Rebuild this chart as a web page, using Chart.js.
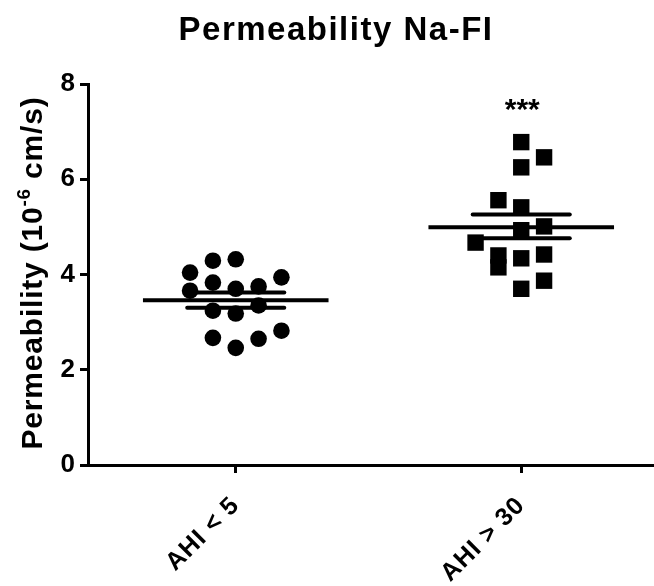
<!DOCTYPE html>
<html>
<head>
<meta charset="utf-8">
<script src="https://cdn.jsdelivr.net/npm/chart.js@4.4.1/dist/chart.umd.min.js"></script>
<style>
  html, body { margin: 0; padding: 0; background: #fff; }
  #wrap { width: 654px; height: 586px; }
</style>
</head>
<body>
<div id="wrap"><canvas id="chart"></canvas></div>
<script>
// groups on the x axis
const groups = ['AHI < 5', 'AHI > 30'];
const yTicks = [0, 2, 4, 6, 8];

// AHI < 5 (circles): x = offset from group centre, y = permeability
const lowX = [-0.16, -0.08, 0, 0.16, -0.16, -0.08, 0, 0.08, -0.08, 0, 0.08, -0.08, 0, 0.08, 0.16];
const lowY = [4.04, 4.29, 4.32, 3.94, 3.66, 3.83, 3.70, 3.75, 3.24, 3.18, 3.35, 2.67, 2.46, 2.65, 2.82];

// AHI > 30 (squares)
const highX = [0, 0.08, 0, -0.08, 0, 0.08, 0, -0.16, -0.08, -0.08, 0, 0.08, 0.08, 0];
const highY = [6.78, 6.46, 6.25, 5.56, 5.41, 5.01, 4.93, 4.67, 4.40, 4.15, 4.34, 4.42, 3.87, 3.70];

// mean +/- SEM per group
const means = [3.46, 4.99];
const semHi = [3.62, 5.26];
const semLo = [3.30, 4.76];
const significance = ['', '***'];

const FONT = '"Liberation Sans", Arial, Helvetica, sans-serif';

function pts(xs, ys, g) {
  return xs.map((x, i) => ({ x: g + x, y: ys[i] }));
}
function hline(g, v, half) {
  return [{ x: g - half, y: v }, { x: g + half, y: v }];
}

const datasets = [
  {
    data: pts(lowX, lowY, 0),
    pointStyle: 'circle', pointRadius: 8.3,
    backgroundColor: '#000', borderColor: '#000', borderWidth: 0
  },
  {
    data: pts(highX, highY, 1),
    pointStyle: 'rect', pointRadius: 11.6,
    backgroundColor: '#000', borderColor: '#000', borderWidth: 0
  }
];
groups.forEach((g, i) => {
  datasets.push({ data: hline(i, means[i], 0.325), showLine: true, pointRadius: 0, borderColor: '#000', borderWidth: 4 });
  datasets.push({ data: hline(i, semHi[i], 0.17), showLine: true, pointRadius: 0, borderColor: '#000', borderWidth: 4, borderCapStyle: 'round' });
  datasets.push({ data: hline(i, semLo[i], 0.17), showLine: true, pointRadius: 0, borderColor: '#000', borderWidth: 4, borderCapStyle: 'round' });
});
datasets.forEach(d => { d.clip = false; });

// the original lettering is a little more widely spaced than Liberation Sans
const spacingPlugin = {
  id: 'spacing',
  beforeUpdate(chart) { chart.ctx.letterSpacing = '1px'; },
  beforeDraw(chart) { chart.ctx.letterSpacing = '1px'; }
};

const labelsPlugin = {
  id: 'labels',
  afterDraw(chart) {
    const ctx = chart.ctx;
    const xs = chart.scales.x, ys = chart.scales.y;
    ctx.save();
    ctx.fillStyle = '#000';

    // title
    ctx.letterSpacing = '1.5px';
    ctx.font = 'bold 33px ' + FONT;
    ctx.textAlign = 'center';
    ctx.textBaseline = 'alphabetic';
    ctx.fillText('Permeability Na-FI', 336, 40);

    // significance stars
    ctx.letterSpacing = '0px';
    ctx.font = 'bold 30px ' + FONT;
    ctx.textBaseline = 'middle';
    significance.forEach((s, i) => {
      if (s) ctx.fillText(s, xs.getPixelForValue(i) + 1, ys.getPixelForValue(7.55) + 5);
    });

    // y axis title with superscript
    ctx.letterSpacing = '0.8px';
    const big = 'bold 30px ' + FONT, small = 'bold 19px ' + FONT;
    const parts = [['Permeability (10', big, 0], ['-6', small, -12], [' cm/s)', big, 0]];
    let total = 0;
    parts.forEach(p => { ctx.font = p[1]; total += ctx.measureText(p[0]).width; });
    ctx.translate(42, 273);
    ctx.rotate(-Math.PI / 2);
    ctx.textAlign = 'left';
    ctx.textBaseline = 'alphabetic';
    let x = -total / 2;
    parts.forEach(p => {
      ctx.font = p[1];
      ctx.fillText(p[0], x, p[2]);
      x += ctx.measureText(p[0]).width;
    });
    ctx.restore();
  }
};

new Chart(document.getElementById('chart'), {
  type: 'scatter',
  data: { datasets },
  plugins: [spacingPlugin, labelsPlugin],
  options: {
    responsive: true,
    maintainAspectRatio: false,
    animation: false,
    layout: { autoPadding: false, padding: { top: 84, right: 0, left: 0, bottom: 0 } },
    plugins: { legend: { display: false }, tooltip: { enabled: false }, title: { display: false } },
    scales: {
      x: {
        type: 'linear',
        min: -0.5175,
        max: 1.465,
        afterBuildTicks: (s) => { s.ticks = groups.map((g, i) => ({ value: i })); },
        afterFit: (s) => { s.height = 121; s.paddingLeft = 0; s.paddingRight = 0; },
        ticks: {
          autoSkip: false,
          minRotation: 45, maxRotation: 45,
          padding: 18,
          color: '#000',
          font: { family: FONT, size: 25, weight: 'bold' },
          callback: (v) => groups[v]
        },
        grid: { display: true, drawOnChartArea: false, drawTicks: true, tickLength: 8, tickWidth: 3, tickColor: '#000' },
        border: { display: true, color: '#000', width: 3 }
      },
      y: {
        min: 0,
        max: 8,
        afterBuildTicks: (s) => { s.ticks = yTicks.map(v => ({ value: v })); },
        afterFit: (s) => { s.width = 88; },
        ticks: {
          padding: 4,
          color: '#000',
          font: { family: FONT, size: 26, weight: 'bold' }
        },
        grid: { display: true, drawOnChartArea: false, drawTicks: true, tickLength: 8, tickWidth: 3, tickColor: '#000' },
        border: { display: true, color: '#000', width: 3 }
      }
    }
  }
});
</script>
</body>
</html>
